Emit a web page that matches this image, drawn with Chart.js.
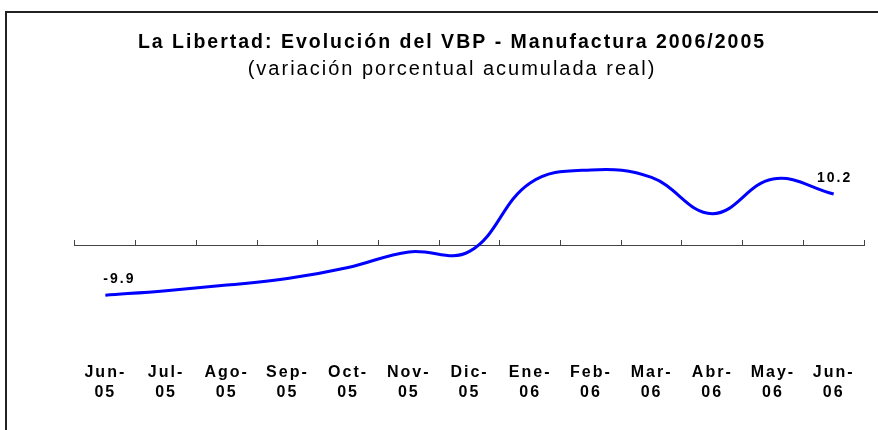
<!DOCTYPE html>
<html lang="es">
<head>
  <meta charset="UTF-8" />
  <title>La Libertad: Evolución del VBP - Manufactura</title>
  <script src="https://cdn.jsdelivr.net/npm/chart.js"></script>
  <style>
    html, body { margin: 0; padding: 0; overflow: hidden; background: #fff; }
    .marco { position: absolute; left: 5px; top: 11px; width: 900px; height: 450px; border: 2px solid #222; }
    .lienzo { position: absolute; left: 0; top: 0; width: 878px; height: 430px; }
  </style>
</head>
<body>
  <div class="marco"></div>
  <div class="lienzo"><canvas id="grafico" width="878" height="430"></canvas></div>

  <script>
    // datos
    const meses = [
      ['Jun-', '05'], ['Jul-', '05'], ['Ago-', '05'], ['Sep-', '05'], ['Oct-', '05'], ['Nov-', '05'], ['Dic-', '05'],
      ['Ene-', '06'], ['Feb-', '06'], ['Mar-', '06'], ['Abr-', '06'], ['May-', '06'], ['Jun-', '06']
    ];
    const variacion = [-9.9, -9.0, -7.9, -6.6, -4.4, -1.3, -1.2, 12.4, 15.0, 13.5, 6.3, 13.2, 10.2];
    const etiquetados = [0, variacion.length - 1];

    const titulo = 'La Libertad: Evolución del VBP - Manufactura 2006/2005';
    const subtitulo = '(variación porcentual acumulada real)';

    const fuente = "'Liberation Sans', Arial, sans-serif";

    // el texto de Excel sale con letras algo separadas
    const espaciado = {
      id: 'espaciado',
      beforeDraw(chart) { chart.ctx.letterSpacing = '2px'; }
    };

    // etiquetas de valor en el primer y último punto
    const etiquetasValor = {
      id: 'etiquetasValor',
      afterDatasetsDraw(chart) {
        const meta = chart.getDatasetMeta(0);
        const ctx = chart.ctx;
        ctx.save();
        ctx.font = 'bold 14px ' + fuente;
        ctx.fillStyle = '#000';
        ctx.textBaseline = 'middle';
        etiquetados.forEach(i => {
          const p = meta.data[i];
          ctx.textAlign = i === 0 ? 'left' : 'center';
          const x = i === 0 ? p.x - 2 : p.x + 1;
          ctx.fillText(variacion[i].toFixed(1), x, p.y - 16);
        });
        ctx.restore();
      }
    };

    new Chart(document.getElementById('grafico'), {
      type: 'line',
      data: {
        labels: meses.map(m => m.join('')),
        datasets: [{
          data: variacion,
          borderColor: '#0000ff',
          borderWidth: 3,
          pointRadius: 0,
          tension: 0.4,
          fill: false,
          xAxisID: 'x',
          yAxisID: 'y'
        }]
      },
      options: {
        responsive: false,
        animation: false,
        layout: { padding: { left: 40, right: 14, top: 0, bottom: 10 } },
        plugins: {
          legend: { display: false },
          tooltip: { enabled: false },
          title: {
            display: true,
            text: titulo,
            color: '#000',
            font: { family: fuente, size: 19.5, weight: 'bold', lineHeight: 1.2 },
            padding: { top: 31, bottom: 3 }
          },
          subtitle: {
            display: true,
            text: subtitulo,
            color: '#000',
            font: { family: fuente, size: 20, weight: 'normal', lineHeight: 1.2 },
            padding: { top: 0, bottom: 13 }
          }
        },
        scales: {
          x: {
            type: 'category',
            position: { y: 0 },
            offset: true,
            ticks: { display: false },
            border: { display: true, color: '#444', width: 1 },
            grid: { display: true, offset: true, drawOnChartArea: false, drawTicks: true, tickLength: -6, tickColor: '#444', lineWidth: 1 }
          },
          xb: {
            type: 'category',
            axis: 'x',
            position: 'bottom',
            labels: meses,
            offset: true,
            border: { display: false },
            grid: { display: false, drawTicks: false },
            ticks: {
              color: '#000',
              font: { family: fuente, size: 16, weight: 'bold', lineHeight: 1.25 },
              padding: 17,
              maxRotation: 0,
              autoSkip: false
            }
          },
          y: {
            min: -20,
            max: 30,
            display: true,
            ticks: { display: false },
            grid: { display: false },
            border: { display: false },
            afterFit(scale) { scale.width = 35; }
          }
        }
      },
      plugins: [espaciado, etiquetasValor]
    });
  </script>
</body>
</html>
